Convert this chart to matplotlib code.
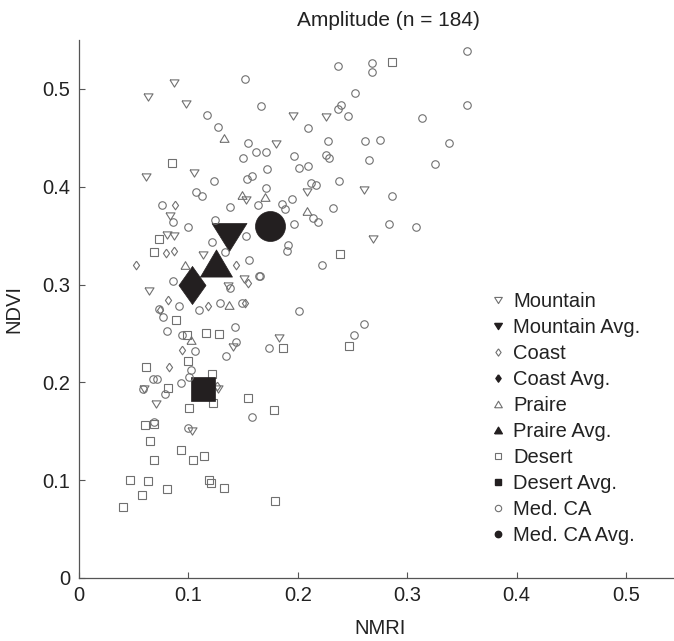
import matplotlib
matplotlib.use('Agg')
import matplotlib.pyplot as plt
from matplotlib.lines import Line2D

plt.rcParams['font.family'] = ['Liberation Sans', 'DejaVu Sans']

# NMRI (x) / NDVI (y) amplitude values
mountain_x = [0.0636, 0.0874, 0.0978, 0.180, 0.0618, 0.1057, 0.153, 0.0834, 0.1956, 0.2254,
              0.2084, 0.2608, 0.2684, 0.1831, 0.0804, 0.0874, 0.1133, 0.1505, 0.1362, 0.0645,
              0.1408, 0.0597, 0.1276, 0.0707, 0.1033]
mountain_y = [0.492, 0.506, 0.485, 0.4435, 0.410, 0.414, 0.386, 0.370, 0.472, 0.471,
              0.3949, 0.3966, 0.3466, 0.2452, 0.3507, 0.350, 0.3306, 0.3058, 0.298, 0.2939,
              0.236, 0.1936, 0.1936, 0.1776, 0.1503]

coast_x = [0.0883, 0.0798, 0.0874, 0.0524, 0.1435, 0.155, 0.0813, 0.1185, 0.152, 0.0743,
           0.0947, 0.0825, 0.1265]
coast_y = [0.381, 0.332, 0.3347, 0.3204, 0.320, 0.3013, 0.2837, 0.2776, 0.2813, 0.2735,
           0.2327, 0.2156, 0.196]

praire_x = [0.133, 0.149, 0.170, 0.2084, 0.0971, 0.137, 0.1026]
praire_y = [0.450, 0.392, 0.390, 0.3755, 0.3204, 0.2793, 0.2435]

desert_x = [0.0853, 0.2857, 0.2382, 0.1865, 0.2468, 0.0737, 0.0688, 0.0886, 0.1164, 0.1282,
            0.0987, 0.1002, 0.0612, 0.1215, 0.0819, 0.1545, 0.1008, 0.1225, 0.1779, 0.0609,
            0.0691, 0.0652, 0.0932, 0.0688, 0.1048, 0.1148, 0.0469, 0.0631, 0.0804, 0.1190,
            0.1205, 0.1331, 0.0576, 0.0402, 0.1788]
desert_y = [0.424, 0.527, 0.3313, 0.235, 0.237, 0.3466, 0.3337, 0.264, 0.2507, 0.249,
            0.248, 0.2218, 0.2156, 0.2082, 0.1946, 0.1837, 0.1742, 0.1789, 0.1714, 0.1568,
            0.1578, 0.1401, 0.1306, 0.1204, 0.1211, 0.1248, 0.100, 0.099, 0.0911, 0.100,
            0.097, 0.0925, 0.0844, 0.0728, 0.0789]

medca_x = [0.152, 0.166, 0.117, 0.127, 0.155, 0.162, 0.171, 0.150, 0.1237, 0.1535,
           0.158, 0.172, 0.171, 0.107, 0.113, 0.164, 0.0758, 0.138, 0.0859, 0.0996,
           0.124, 0.3546, 0.2364, 0.2675, 0.2675, 0.252, 0.3546, 0.2398, 0.2364, 0.246,
           0.3132, 0.209, 0.2279, 0.2614, 0.2751, 0.3382, 0.197, 0.2254, 0.229, 0.265,
           0.325, 0.2014, 0.2093, 0.2125, 0.2165, 0.2373, 0.2864, 0.1947, 0.1855, 0.1886,
           0.2322, 0.2136, 0.2184, 0.197, 0.283, 0.308, 0.191, 0.190, 0.2218, 0.1657,
           0.2014, 0.1742, 0.2608, 0.2514, 0.1215, 0.153, 0.1337, 0.1557, 0.0865, 0.1642,
           0.1380, 0.092, 0.110, 0.129, 0.149, 0.0730, 0.0774, 0.0804, 0.1429, 0.0941,
           0.1438, 0.1063, 0.1346, 0.1026, 0.1008, 0.0680, 0.0715, 0.0932, 0.0789, 0.059,
           0.158, 0.0691, 0.0996]
medca_y = [0.510, 0.483, 0.473, 0.4615, 0.4446, 0.436, 0.436, 0.429, 0.406, 0.4078,
           0.411, 0.418, 0.399, 0.395, 0.391, 0.3816, 0.381, 0.3796, 0.364, 0.359,
           0.366, 0.5388, 0.5235, 0.526, 0.5177, 0.4956, 0.484, 0.4838, 0.479, 0.4724,
           0.4704, 0.460, 0.447, 0.4466, 0.4476, 0.4452, 0.4316, 0.432, 0.4289, 0.4272,
           0.4231, 0.4187, 0.4214, 0.4040, 0.4016, 0.406, 0.3905, 0.3874, 0.3823, 0.3772,
           0.3782, 0.368, 0.3636, 0.362, 0.362, 0.359, 0.3408, 0.334, 0.3204, 0.309,
           0.2731, 0.235, 0.2595, 0.248, 0.3432, 0.3493, 0.3337, 0.3252, 0.304, 0.3089,
           0.296, 0.2776, 0.2735, 0.281, 0.2813, 0.2750, 0.2673, 0.253, 0.2565, 0.248,
           0.2411, 0.232, 0.2265, 0.2122, 0.2054, 0.2037, 0.2037, 0.1993, 0.1878, 0.1929,
           0.1646, 0.1590, 0.1534]

# group averages
avg_x = {'Mountain': 0.1374, 'Coast': 0.1036, 'Praire': 0.1256, 'Desert': 0.1132, 'Med. CA': 0.1749}
avg_y = {'Mountain': 0.3487, 'Coast': 0.2992, 'Praire': 0.3216, 'Desert': 0.1935, 'Med. CA': 0.3602}

# marker shapes (MATLAB-like proportions)
tri_down = [(-1, 0.8), (1, 0.8), (0, -0.8), (-1, 0.8)]
tri_up = [(-1, -0.85), (1, -0.85), (0, 0.85), (-1, -0.85)]
diamond = [(0, 1), (0.71, 0), (0, -1), (-0.71, 0), (0, 1)]

grey = '#707070'
dark = '#231f20'

fig = plt.figure(figsize=(6.74, 6.41), dpi=100)
ax = fig.add_axes([0.1168, 0.0983, 0.8936, 0.8393])

groups = [
    ('Mountain', mountain_x, mountain_y, tri_down, 6.5, 25.2),
    ('Coast', coast_x, coast_y, diamond, 6.2, 27.4),
    ('Praire', praire_x, praire_y, tri_up, 6.5, 23.0),
    ('Desert', desert_x, desert_y, 's', 5.2, 17.6),
    ('Med. CA', medca_x, medca_y, 'o', 5.4, 21.6),
]

handles = []
for name, xs, ys, mk, ms_small, ms_big in groups:
    ax.plot(xs, ys, linestyle='none', marker=mk, ms=ms_small, mfc='none',
            mec=grey, mew=0.8)
    ax.plot([avg_x[name]], [avg_y[name]], linestyle='none', marker=mk, ms=ms_big,
            mfc=dark, mec=dark, mew=0.5)
    handles.append(Line2D([], [], linestyle='none', marker=mk, ms=ms_small * 0.85,
                          mfc='none', mec=grey, mew=0.8, label=name))
    handles.append(Line2D([], [], linestyle='none', marker=mk, ms=ms_small * 0.85,
                          mfc=dark, mec=dark, label=name + ' Avg.'))

ax.set_xlim(0, 0.55)
ax.set_ylim(0, 0.55)
ax.set_xticks([0, 0.1, 0.2, 0.3, 0.4, 0.5])
ax.set_xticklabels(['0', '0.1', '0.2', '0.3', '0.4', '0.5'])
ax.set_yticks([0, 0.1, 0.2, 0.3, 0.4, 0.5])
ax.set_yticklabels(['0', '0.1', '0.2', '0.3', '0.4', '0.5'])

for side in ['top', 'right']:
    ax.spines[side].set_visible(False)
for side in ['left', 'bottom']:
    ax.spines[side].set_color('#555555')
    ax.spines[side].set_linewidth(0.9)
ax.tick_params(direction='in', length=4.5, width=0.8, color='#555555',
               labelsize=14.5, labelcolor='#222222', pad=6)

ax.set_xlabel('NMRI', fontsize=14.5, color='#222222', labelpad=10)
ax.set_ylabel('NDVI', fontsize=14.5, color='#222222', labelpad=14)
ax.set_title('Amplitude (n = 184)', fontsize=15, color='#222222', pad=10, x=0.5135)

ax.legend(handles=handles, loc='center left', bbox_to_anchor=(0.683, 0.296),
          frameon=False, fontsize=14.5, handlelength=0.8, handletextpad=0.35,
          labelspacing=0.35, borderpad=0, borderaxespad=0, labelcolor='#222222')

fig.savefig('out.png', dpi=100)
